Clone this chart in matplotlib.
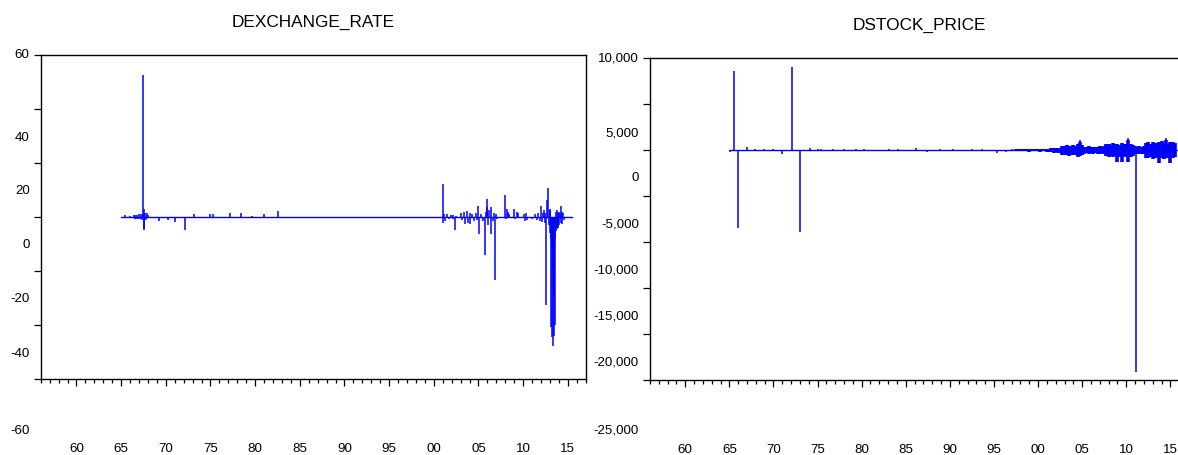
import numpy as np
import matplotlib
matplotlib.use("Agg")
import matplotlib.pyplot as plt
from matplotlib.ticker import MultipleLocator
from matplotlib.transforms import offset_copy

plt.rcParams["font.family"] = ["Liberation Sans", "DejaVu Sans"]

# ---- DEXCHANGE_RATE: zero most of the time, spikes
ex_span = [1965.0, 2015.45]
ex_years = [1965.45, 1966.0, 1966.4, 1966.5, 1966.6, 1966.7, 1966.8, 1966.9, 1967.0, 1967.1,
            1967.2, 1967.3, 1967.4, 1967.5, 1967.52, 1967.55, 1967.6, 1967.7, 1967.8, 1967.9,
            1968.0, 1969.2, 1970.3, 1971.0, 1972.1, 1973.2, 1974.9, 1975.3, 1977.2, 1978.4,
            1979.6, 1981.0, 1982.6,
            2001.0, 2001.05, 2001.15, 2001.3, 2001.5, 2001.7, 2001.9, 2002.1, 2002.2, 2002.4,
            2002.5, 2003.0, 2003.2, 2003.4, 2003.5, 2003.7, 2003.8, 2004.0, 2004.1, 2004.3,
            2004.5, 2004.7, 2004.8, 2005.0, 2005.05, 2005.3, 2005.5, 2005.7, 2005.8, 2005.9,
            2006.0, 2006.1, 2006.2, 2006.4, 2006.45, 2006.6, 2006.7, 2006.9, 2007.0, 2007.1,
            2008.0, 2008.05, 2008.2, 2008.3, 2008.4, 2008.5, 2009.0, 2009.1, 2009.3, 2009.45,
            2010.1, 2010.2, 2010.3, 2010.4, 2011.0, 2011.3, 2011.5, 2011.7, 2011.85, 2012.0,
            2012.1, 2012.2, 2012.3, 2012.4, 2012.5, 2012.6, 2012.7, 2012.8, 2012.85, 2012.95,
            2013.0, 2013.05, 2013.1, 2013.15, 2013.2, 2013.25, 2013.3, 2013.35, 2013.4, 2013.45,
            2013.5, 2013.55, 2013.6, 2013.65, 2013.7, 2013.75, 2013.8, 2013.85, 2013.9, 2013.95,
            2014.0, 2014.05, 2014.1, 2014.2, 2014.25, 2014.35, 2014.4, 2014.5, 2014.6]
ex_vals = [0.7, 0.5, 0.8, -0.5, 0.8, -0.6, 0.9, -0.7, 1.0, -0.8,
           1.0, -0.9, 1.2, 52.7, -4.9, 3.0, -4.5, 1.5, -1.0, 1.5,
           0.8, -1.5, -1.0, -1.7, -4.9, 1.0, 1.2, 1.2, 1.7, 1.5,
           0.6, 1.2, 2.2,
           12.1, -2.2, 1.0, -1.5, 1.0, -0.8, 0.9, -0.6, 0.8, -4.7,
           0.5, 1.5, -1.2, 1.8, -2.7, 2.3, -2.0, 1.5, -2.7, 1.2,
           -1.5, 1.5, -1.0, 4.1, -6.1, 1.0, -1.5, -13.9, 2.0, 3.7,
           6.8, -3.0, 2.5, -6.1, 3.7, -1.5, 1.5, -23.2, 1.0, -0.8,
           8.1, -0.5, 3.1, 2.0, 1.2, -0.4, 3.1, -0.5, 2.0, 1.5,
           1.0, -1.6, 1.5, -1.0, -0.8, 1.0, -1.2, 1.6, -1.5, 4.1,
           -1.8, 1.5, 2.8, -2.0, 1.5, -32.5, 6.2, 10.9, -3.0, 3.0,
           -6.0, 2.5, -8.0, -40.5, -12.0, -44.4, -20.0, -47.8, -30.0, -44.0,
           -15.0, -40.0, -8.0, -5.0, 2.0, -4.3, 2.5, -3.5, 1.5, -4.0,
           2.0, -3.0, 1.5, 4.1, -2.0, 2.0, -2.5, 1.5, -1.0]

# ---- DSTOCK_PRICE: isolated spikes plus a dense noisy band after 1997
st_span = [1965.05, 2017.0]
st_years = [1965.1, 1965.56, 1965.94, 1967.0, 1967.9, 1968.9, 1970.0, 1971.0, 1972.1, 1973.0,
            1974.1, 1975.1, 1975.4, 1976.8, 1978.0, 1979.4, 1980.3, 1981.2, 1983.1, 1984.1,
            1986.2, 1987.4, 1988.9, 1990.3, 1991.0, 1992.5, 1993.6, 1995.3, 1996.4, 1997.0,
            2004.75, 2010.25, 2011.05, 2014.5]
st_vals = [-180, 8600, -8500, 300, 150, 150, 150, -470, 9000, -8870,
           200, 150, 150, 130, 130, 130, 120, -100, 80, 80,
           200, -150, 80, 120, -80, 80, 80, -330, -150, 120,
           1050, 1330, -24200, 1330]

band_years = np.arange(1997.5, 2015.51, 0.25)
band_hi = [120, 110, 130, 120, 140, 120, 110, 130, 150, 130, 120, 140, 130, 150, 140, 160,
           220, 260, 240, 280, 250,
           420, 480, 530, 460, 500, 550, 470, 620,
           900,
           600,
           380, 340, 400, 360, 320, 390, 350, 410, 370, 430,
           620, 700, 560, 750, 680, 720, 600, 780, 690, 650, 1100, 720, 560,
           420, 380, 450, 360, 400,
           760, 850, 700, 900, 820, 780, 880, 940, 800, 1100, 720, 900, 860, 780]
band_lo = [-120, -130, -110, -140, -120, -130, -150, -120, -130, -140, -120, -150, -130, -140, -160, -150,
           -240, -280, -250, -300, -270,
           -480, -560, -520, -600, -540, -580, -500, -760,
           -650,
           -500,
           -380, -350, -420, -360, -400, -340, -390, -420, -360, -400,
           -650, -720, -600, -760, -680, -1300, -700, -1300, -640, -720, -1280, -700, -620,
           -420, -380, -440, -400, -420,
           -820, -900, -760, -940, -860, -800, -1370, -880, -920, -840, -900, -1370, -880, -800]

ex_yticks = [60, 40, 20, 0, -20, -40, -60]
st_yticks = [10000, 5000, 0, -5000, -10000, -15000, -20000, -25000]
# the tick labels sit lower than their ticks in the source (pixels)
ex_label_drop = [0, 28.7, 27.7, 28.3, 28.3, 28.3, 51.3]
st_label_drop = [0, 29.1, 27.5, 28.2, 28.6, 28.7, 28.3, 50.8]
year_ticks = list(range(1960, 2016, 5))

blue = "#0000FF"
fig = plt.figure(figsize=(11.78, 4.55), dpi=100)
ax1 = fig.add_axes([40.7 / 1178, 75.7 / 455, 545 / 1178, 324.3 / 455])
ax2 = fig.add_axes([650 / 1178, 75.3 / 455, 538 / 1178, 321.4 / 455])


def style(ax, yticks, labels, drops, title):
    ax.set_xlim(1956, 2017)
    ax.set_ylim(yticks[-1], yticks[0])
    ax.set_xticks(year_ticks, [f"{y % 100:02d}" for y in year_ticks])
    ax.xaxis.set_minor_locator(MultipleLocator(1))
    ax.tick_params(axis="x", which="major", direction="out", length=5, width=0.9,
                   pad=41, labelsize=9.6)
    ax.tick_params(axis="x", which="minor", direction="out", length=3.2, width=0.9)
    ax.set_yticks(yticks)
    ax.tick_params(axis="y", direction="out", length=4.7, width=0.9, labelleft=False)
    for s in ax.spines.values():
        s.set_linewidth(1.0)
    for v, lab, d in zip(yticks, labels, drops):
        tr = offset_copy(ax.get_yaxis_transform(), fig=fig, x=-11, y=-d, units="dots")
        ax.text(0, v, lab, transform=tr, ha="right", va="center", fontsize=9.6)
    ax.set_title(title, fontsize=12.4, pad=20.2)


ax1.plot(ex_span, [0, 0], color=blue, lw=1.0)
ax1.vlines(ex_years, 0, ex_vals, color=blue, lw=1.1)
style(ax1, ex_yticks, [str(v) for v in ex_yticks], ex_label_drop, "DEXCHANGE_RATE")

ax2.plot(st_span, [0, 0], color=blue, lw=1.0)
ax2.vlines(band_years, band_lo, band_hi, color=blue, lw=2.6)
ax2.vlines(st_years, 0, st_vals, color=blue, lw=1.1)
style(ax2, st_yticks, [f"{v:,}" for v in st_yticks], st_label_drop, "DSTOCK_PRICE")

fig.savefig("out.png", dpi=100)
